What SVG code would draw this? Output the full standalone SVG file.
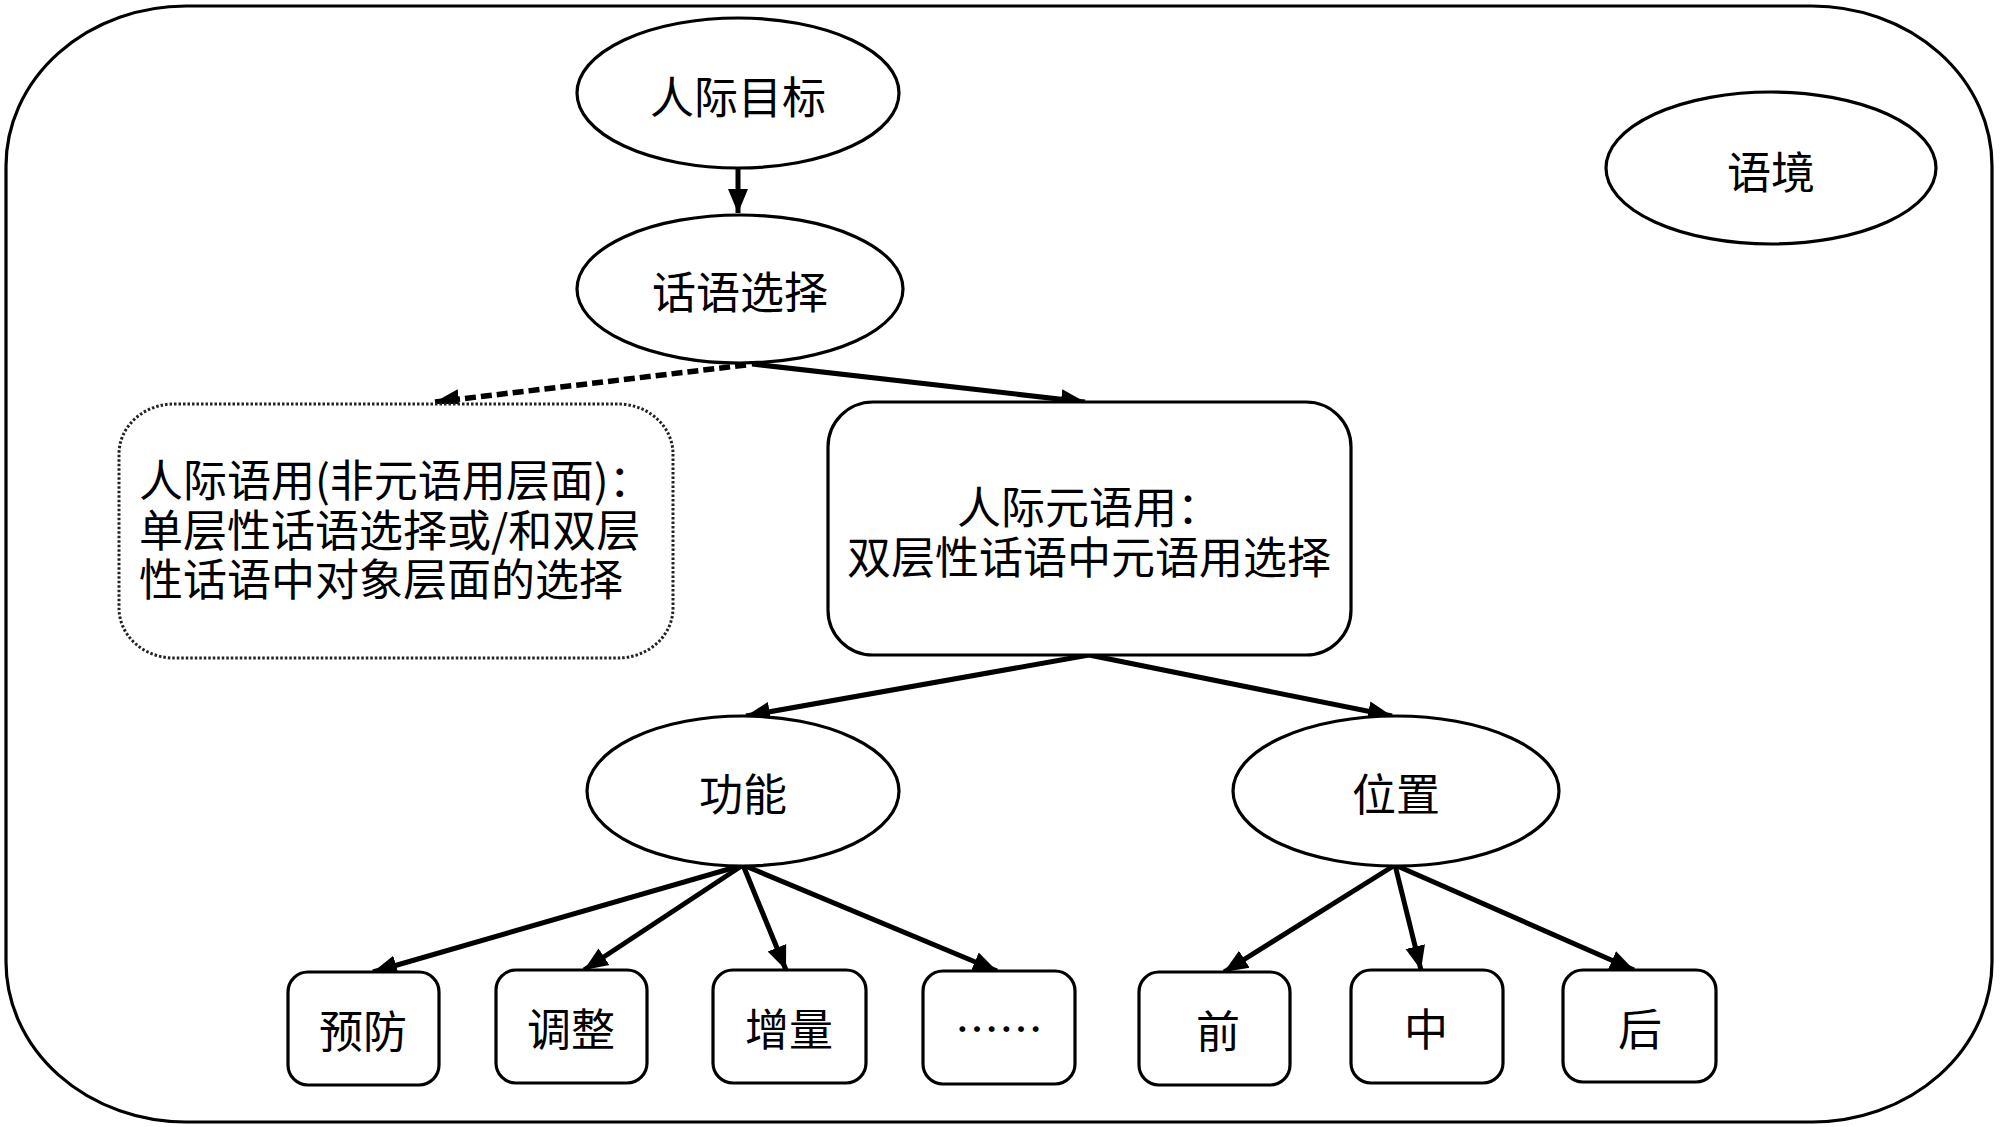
<svg xmlns="http://www.w3.org/2000/svg" width="2000" height="1127" viewBox="0 0 2000 1127">
<style>
  .shape { fill: #ffffff; stroke: #000000; stroke-width: 3.2; }
  .dash { fill: #ffffff; stroke: #222222; stroke-width: 3; stroke-dasharray: 2.5 2; }
  .lbl { font-family: "Noto Sans CJK SC", "Noto Sans", sans-serif; font-size: 44px; fill: #000000; text-anchor: middle; }
  .lbll { font-family: "Noto Sans CJK SC", "Noto Sans", sans-serif; font-size: 44px; fill: #000000; text-anchor: start; }
  .conn { fill: none; stroke: #000000; stroke-width: 5; marker-end: url(#ah); }
  .conn-d { fill: none; stroke: #000000; stroke-width: 5.5; stroke-dasharray: 11 5; marker-end: url(#ah); }
</style>
<defs>
  <marker id="ah" markerUnits="userSpaceOnUse" markerWidth="26" markerHeight="22" refX="24" refY="11" orient="auto">
    <path d="M0,1 L24,11 L0,21 z" fill="#000000"/>
  </marker>
</defs>
<rect width="2000" height="1127" fill="#ffffff"/>
<g id="context-frame">
  <rect x="6" y="6" width="1986" height="1116" rx="180" ry="160" fill="none" stroke="#000000" stroke-width="3.2"/>
</g>
<g id="connectors">
  <path class="conn" d="M738,168 L738,213"/>
  <path class="conn-d" d="M746,365 L435,402"/>
  <path class="conn" d="M752,364 L1085,402"/>
  <path class="conn" d="M1089,655 L746,716"/>
  <path class="conn" d="M1089,655 L1392,716"/>
  <path class="conn" d="M743,865 L373,972"/>
  <path class="conn" d="M743,865 L584,970"/>
  <path class="conn" d="M743,865 L786,970"/>
  <path class="conn" d="M743,865 L997,971"/>
  <path class="conn" d="M1395,865 L1224,972"/>
  <path class="conn" d="M1395,865 L1421,970"/>
  <path class="conn" d="M1395,865 L1634,970"/>
</g>
<g id="goal">
  <ellipse class="shape" cx="738" cy="93" rx="161" ry="75"/>
  <text class="lbl" x="738" y="114">人际目标</text>
</g>
<g id="choice">
  <ellipse class="shape" cx="740" cy="289" rx="163" ry="74"/>
  <text class="lbl" x="740" y="309">话语选择</text>
</g>
<g id="context">
  <ellipse class="shape" cx="1771" cy="168" rx="165" ry="76"/>
  <text class="lbl" x="1771" y="189">语境</text>
</g>
<g id="interpersonal-pragmatics">
  <rect class="dash" x="119" y="404" width="554" height="254" rx="55" ry="50"/>
  <text class="lbll" x="139" y="497">人际语用(非元语用层面)：</text>
  <text class="lbll" x="139" y="547">单层性话语选择或/和双层</text>
  <text class="lbll" x="139" y="596">性话语中对象层面的选择</text>
</g>
<g id="metapragmatics">
  <rect class="shape" x="828" y="402" width="523" height="253" rx="45" ry="45"/>
  <text class="lbl" x="1089" y="524">人际元语用：</text>
  <text class="lbl" x="1089" y="574">双层性话语中元语用选择</text>
</g>
<g id="function">
  <ellipse class="shape" cx="743" cy="791" rx="156" ry="75"/>
  <text class="lbl" x="743" y="811">功能</text>
</g>
<g id="position">
  <ellipse class="shape" cx="1396" cy="791" rx="163" ry="75"/>
  <text class="lbl" x="1396" y="811">位置</text>
</g>
<g id="prevent">
  <rect class="shape" x="288" y="972" width="151" height="113" rx="20" ry="20"/>
  <text class="lbl" x="363" y="1048">预防</text>
</g>
<g id="adjust">
  <rect class="shape" x="496" y="970" width="151" height="113" rx="20" ry="20"/>
  <text class="lbl" x="571" y="1046">调整</text>
</g>
<g id="increment">
  <rect class="shape" x="713" y="970" width="153" height="113" rx="20" ry="20"/>
  <text class="lbl" x="789" y="1046">增量</text>
</g>
<g id="etc">
  <rect class="shape" x="923" y="971" width="152" height="113" rx="20" ry="20"/>
  <text class="lbl" x="999" y="1046">……</text>
</g>
<g id="front">
  <rect class="shape" x="1139" y="972" width="151" height="113" rx="20" ry="20"/>
  <text class="lbl" x="1218" y="1048">前</text>
</g>
<g id="middle">
  <rect class="shape" x="1351" y="970" width="152" height="113" rx="20" ry="20"/>
  <text class="lbl" x="1426" y="1046">中</text>
</g>
<g id="back">
  <rect class="shape" x="1563" y="970" width="153" height="112" rx="20" ry="20"/>
  <text class="lbl" x="1640" y="1046">后</text>
</g>
</svg>
